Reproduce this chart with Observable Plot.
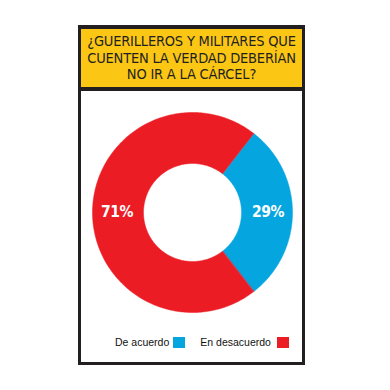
<!DOCTYPE html>
<html>
<head>
<meta charset="utf-8">
<script src="https://cdn.jsdelivr.net/npm/d3@7"></script>
<script src="https://cdn.jsdelivr.net/npm/@observablehq/plot@0.6"></script>
<style>
  html, body { margin: 0; padding: 0; background: #fff; width: 390px; height: 390px; overflow: hidden; }
  #frame {
    position: absolute; left: 78px; top: 25px; width: 227px; height: 340px;
    box-sizing: border-box; border: 3px solid #231f20; border-top-width: 4px; background: #fff;
  }
  #header {
    position: absolute; left: 0; top: 0; right: 0; height: 62px;
    background: #fbc614; border-bottom: 4px solid #231f20; box-sizing: border-box;
    font-family: "DejaVu Sans Condensed", "Liberation Sans", sans-serif;
    font-size: 14.5px; line-height: 16.5px; color: #231f20; text-align: center;
    padding-top: 4px; letter-spacing: -0.2px;
  }
  #chart { position: absolute; left: 82px; top: 102px; }
  #legend {
    position: absolute; top: 336px; left: 115px;
    font-family: "Liberation Sans", Arial, sans-serif; font-size: 10.5px; color: #111;
    display: flex; align-items: center; white-space: nowrap;
  }
  .sw { display: inline-block; width: 12px; height: 11px; }
</style>
</head>
<body>
<div id="frame"><div id="header"></div></div>
<div id="chart"></div>
<div id="legend"></div>
<script>
const titleLines = ["¿GUERILLEROS Y MILITARES QUE", "CUENTEN LA VERDAD DEBERÍAN", "NO IR A LA CÁRCEL?"];
const categories = ["De acuerdo", "En desacuerdo"];
const values = [29, 71];
const colors = ["#05a6e0", "#ec1c24"];
const labels = ["29%", "71%"];

document.getElementById("header").innerHTML = titleLines.join("<br>");

// pie layout: first slice centred on 3 o'clock, clockwise
const total = d3.sum(values);
const start = Math.PI / 2 - (values[0] / total) * Math.PI;
const pie = d3.pie().sort(null).startAngle(start).endAngle(start + 2 * Math.PI)(values);

const R = 1, r0 = 0.49, rl = 0.755;
const pts = [];
pie.forEach((s, i) => {
  const n = Math.max(2, Math.ceil((s.endAngle - s.startAngle) / (Math.PI / 180)));
  for (let k = 0; k <= n; k++) {
    const a = s.startAngle + (s.endAngle - s.startAngle) * k / n;
    pts.push({cat: categories[i], x: R * Math.sin(a), y: R * Math.cos(a)});
  }
  for (let k = n; k >= 0; k--) {
    const a = s.startAngle + (s.endAngle - s.startAngle) * k / n;
    pts.push({cat: categories[i], x: r0 * Math.sin(a), y: r0 * Math.cos(a)});
  }
});
const labelData = pie.map((s, i) => {
  const a = (s.startAngle + s.endAngle) / 2;
  return {label: labels[i], x: rl * Math.sin(a), y: rl * Math.cos(a)};
});

const chart = Plot.plot({
  width: 220, height: 220, margin: 0,
  x: {domain: [-1.1, 1.1], axis: null},
  y: {domain: [-1.1, 1.1], axis: null},
  color: {domain: categories, range: colors},
  marks: [
    Plot.line(pts, {x: "x", y: "y", z: "cat", fill: "cat", stroke: "cat", strokeWidth: 0.5, curve: "linear-closed"}),
    Plot.text(labelData, {x: "x", y: "y", text: "label", fill: "white", fontSize: 15.5, fontWeight: "bold",
      fontFamily: "'DejaVu Sans Condensed', sans-serif", letterSpacing: -0.5})
  ]
});
chart.querySelectorAll("text").forEach(t => t.style.letterSpacing = "-0.5px");
document.getElementById("chart").appendChild(chart);

const legend = document.getElementById("legend");
categories.forEach((c, i) => {
  const t = document.createElement("span"); t.textContent = c;
  const sw = document.createElement("span"); sw.className = "sw"; sw.style.background = colors[i];
  sw.style.marginLeft = i === 0 ? "4px" : "6px";
  if (i === 0) sw.style.marginRight = "15px";
  legend.appendChild(t); legend.appendChild(sw);
});
</script>
</body>
</html>
